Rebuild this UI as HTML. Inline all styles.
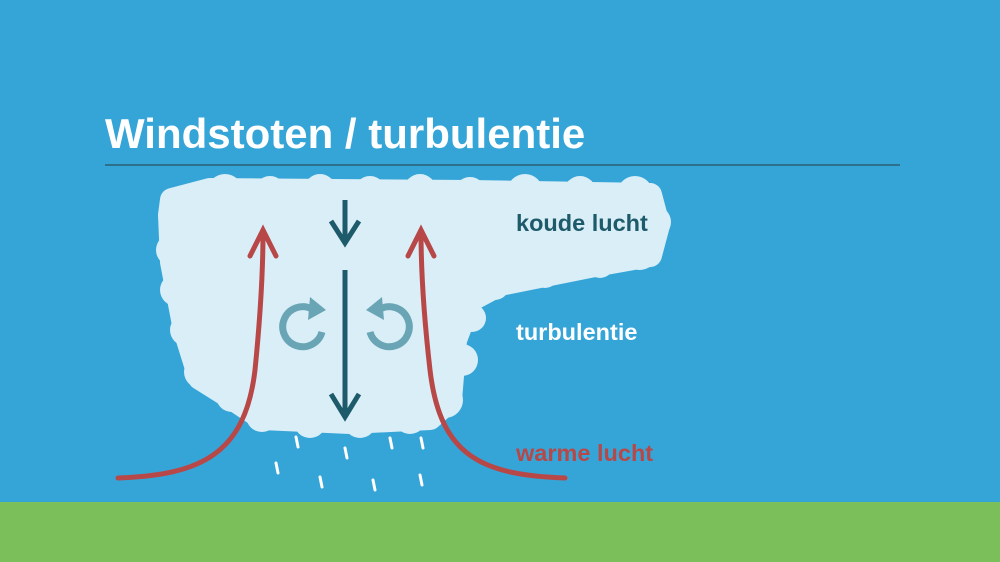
<!DOCTYPE html>
<html><head><style>
html,body{margin:0;padding:0}
body{width:1000px;height:562px;overflow:hidden;background:#35a5d8;font-family:"Liberation Sans",sans-serif}
svg{display:block}
</style></head><body>
<svg width="1000" height="562" viewBox="0 0 1000 562" xmlns="http://www.w3.org/2000/svg">
<rect width="1000" height="562" fill="#35a5d8"/>
<rect y="502" width="1000" height="60" fill="#7bbf5a"/>
<text x="105" y="148" font-family="Liberation Sans, sans-serif" font-weight="bold" font-size="42" fill="#fff">Windstoten / turbulentie</text>
<line x1="105" y1="165" x2="900" y2="165" stroke="#2a5f73" stroke-width="1.5"/>
<g fill="#d9eef7" stroke="#d9eef7" stroke-width="24" stroke-linejoin="round">
<polygon points="172,200 210,190 470,192 650,195 658,225 650,255 600,264 500,284 470,300 455,340 450,400 430,418 350,422 262,418 235,400 200,378 185,330 172,262 170,215"/>
</g>
<g fill="#d9eef7">
<circle cx="180" cy="205" r="18"/><circle cx="225" cy="192" r="18"/><circle cx="270" cy="192" r="16"/><circle cx="320" cy="190" r="16"/><circle cx="370" cy="192" r="16"/><circle cx="420" cy="190" r="16"/><circle cx="470" cy="193" r="16"/><circle cx="525" cy="192" r="18"/><circle cx="580" cy="192" r="16"/><circle cx="635" cy="194" r="18"/><circle cx="655" cy="222" r="16"/><circle cx="640" cy="254" r="16"/><circle cx="600" cy="264" r="14"/><circle cx="545" cy="274" r="14"/><circle cx="495" cy="286" r="14"/><circle cx="472" cy="318" r="14"/><circle cx="462" cy="360" r="16"/><circle cx="445" cy="400" r="18"/><circle cx="410" cy="418" r="16"/><circle cx="360" cy="422" r="16"/><circle cx="310" cy="422" r="16"/><circle cx="262" cy="416" r="16"/><circle cx="232" cy="396" r="16"/><circle cx="200" cy="372" r="16"/><circle cx="186" cy="330" r="16"/><circle cx="176" cy="290" r="16"/><circle cx="172" cy="250" r="16"/>
</g>
<g stroke="#b84848" stroke-width="5" fill="none" stroke-linecap="round" stroke-linejoin="miter">
<path d="M118,478 C200,475 245,455 255,370 C262,300 263,260 263,232"/>
<polyline points="250,256 263,230 276,256"/>
<path d="M565,478 C480,475 440,455 430,370 C422,300 421,260 421,232"/>
<polyline points="408,256 421,230 434,256"/>
</g>
<g stroke="#1d5a6a" stroke-width="5" fill="none">
<line x1="345" y1="200" x2="345" y2="240"/>
<polyline points="331,221 345,243 359,221"/>
<line x1="345" y1="270" x2="345" y2="415"/>
<polyline points="331,394 345,417 359,394"/>
</g>
<g stroke="#6aa5b5" stroke-width="7" fill="none">
<path d="M322,332 A20,20 0 1 1 312,309"/>
<path d="M370,332 A20,20 0 1 0 380,309"/>
</g>
<g fill="#6aa5b5">
<polygon points="310,297 326,310 308,320"/>
<polygon points="382,297 366,310 384,320"/>
</g>
<g stroke="#fff" stroke-width="3" stroke-linecap="round">
<line x1="296" y1="437" x2="298" y2="447"/><line x1="345" y1="448" x2="347" y2="458"/><line x1="390" y1="438" x2="392" y2="448"/><line x1="421" y1="438" x2="423" y2="448"/>
<line x1="276" y1="463" x2="278" y2="473"/><line x1="320" y1="477" x2="322" y2="487"/><line x1="373" y1="480" x2="375" y2="490"/><line x1="420" y1="475" x2="422" y2="485"/>
</g>
<g font-family="Liberation Sans, sans-serif" font-weight="bold" font-size="23.5">
<text x="516" y="231" fill="#1d5a6a">koude lucht</text>
<text x="516" y="340" fill="#fff">turbulentie</text>
<text x="516" y="461" fill="#b84848">warme lucht</text>
</g>
</svg>
</body></html>
